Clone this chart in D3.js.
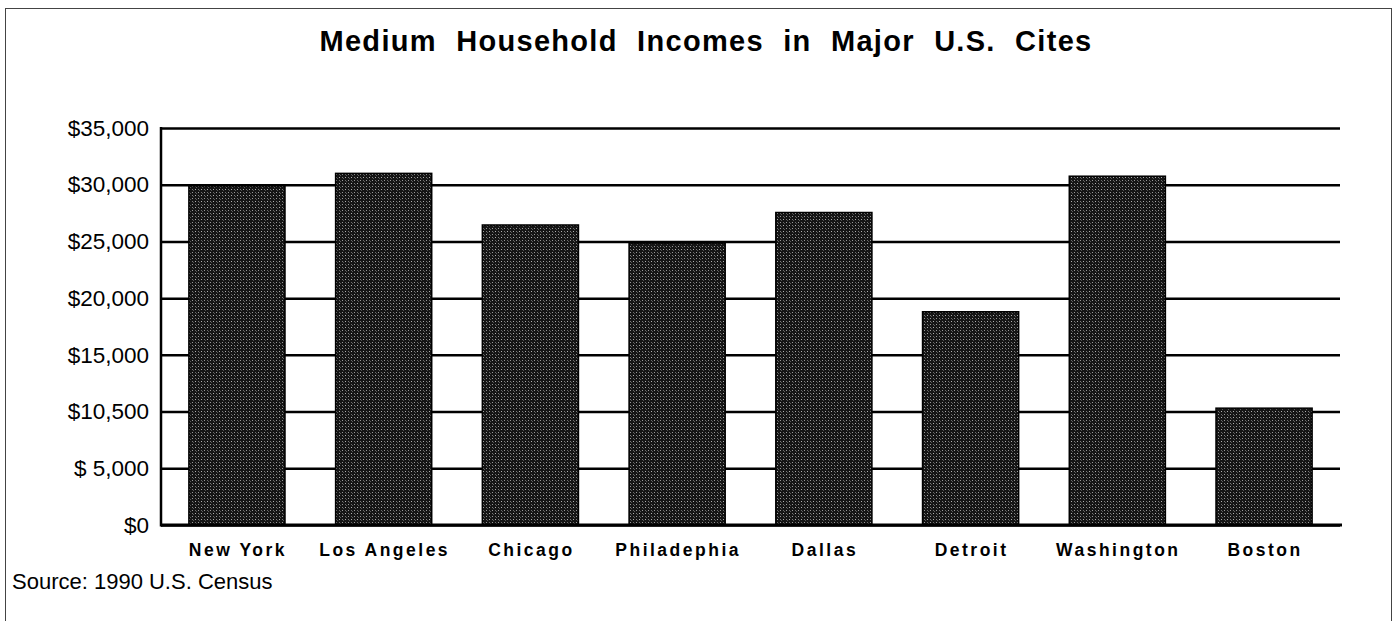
<!DOCTYPE html>
<html>
<head>
<meta charset="utf-8">
<script src="https://cdn.jsdelivr.net/npm/d3@7"></script>
<style>
  body { margin: 0; background: #fff; }
  text { font-family: "Liberation Sans", Arial, Helvetica, sans-serif; fill: #000; }
</style>
</head>
<body>
<div id="chart"></div>
<script>
var cities = ["New York", "Los Angeles", "Chicago", "Philadephia", "Dallas", "Detroit", "Washington", "Boston"];
var incomes = [29900, 31000, 26450, 24850, 27550, 18800, 30750, 10300];
var tickValues = [0, 5000, 10000, 15000, 20000, 25000, 30000, 35000];
var tickLabels = ["$0", "$ 5,000", "$10,500", "$15,000", "$20,000", "$25,000", "$30,000", "$35,000"];
var title = "Medium Household Incomes in Major U.S. Cites";
var source = "Source: 1990 U.S. Census";

var width = 1395, height = 621;
var plotLeft = 161, plotRight = 1340, plotTop = 128, plotBottom = 525;

var svg = d3.select("#chart").append("svg")
    .attr("width", width)
    .attr("height", height);

// halftone-ish fill for the bars
var defs = svg.append("defs");
var pat = defs.append("pattern")
    .attr("id", "dots")
    .attr("patternUnits", "userSpaceOnUse")
    .attr("width", 6)
    .attr("height", 6);
pat.append("rect").attr("width", 6).attr("height", 6).attr("fill", "#151515");
var specks = [[0, 0, "#9a9a9a"], [3, 0, "#6a6a6a"], [0, 3, "#7a7a7a"], [3, 3, "#b0b0b0"], [1, 4, "#555"], [4, 1, "#5a5a5a"]];
specks.forEach(function(s) {
  pat.append("rect").attr("x", s[0]).attr("y", s[1]).attr("width", 1).attr("height", 1).attr("fill", s[2]);
});

// outer frame
svg.append("rect")
    .attr("x", 5.5).attr("y", 8.5)
    .attr("width", 1386).attr("height", 620)
    .attr("fill", "none")
    .attr("stroke", "#444")
    .attr("stroke-width", 1);

var x = d3.scaleBand()
    .domain(cities)
    .range([plotLeft, plotRight])
    .paddingInner(0.345)
    .paddingOuter(0.19);

var y = d3.scaleLinear()
    .domain([0, 35000])
    .range([plotBottom, plotTop]);

// gridlines
var yAxis = d3.axisLeft(y)
    .tickValues(tickValues)
    .tickSize(-(plotRight - plotLeft))
    .tickFormat(function(d, i) { return tickLabels[i]; });

var gy = svg.append("g")
    .attr("transform", "translate(" + plotLeft + ",0)")
    .call(yAxis);
gy.select(".domain").remove();
gy.selectAll(".tick line")
    .attr("stroke", "#000")
    .attr("stroke-width", 2.5);
gy.selectAll(".tick text")
    .attr("x", -12)
    .style("font-size", "22.5px")
    .style("font-family", "'Liberation Sans', Arial, sans-serif");

svg.append("line")
    .attr("x1", plotLeft).attr("x2", plotLeft)
    .attr("y1", plotTop - 1).attr("y2", plotBottom + 1.5)
    .attr("stroke", "#000")
    .attr("stroke-width", 2.5);

svg.selectAll(".bar")
    .data(incomes)
    .enter().append("rect")
    .attr("class", "bar")
    .attr("x", function(d, i) { return x(cities[i]); })
    .attr("y", function(d) { return y(d); })
    .attr("width", x.bandwidth())
    .attr("height", function(d) { return y(0) - y(d); })
    .attr("fill", "url(#dots)")
    .attr("stroke", "#000")
    .attr("stroke-width", 1.5);

svg.append("line")
    .attr("x1", plotLeft).attr("x2", plotRight + 2)
    .attr("y1", plotBottom).attr("y2", plotBottom)
    .attr("stroke", "#000")
    .attr("stroke-width", 3);

svg.selectAll(".city")
    .data(cities)
    .enter().append("text")
    .attr("class", "city")
    .attr("x", function(d) { return x(d) + x.bandwidth() / 2 + 1; })
    .attr("y", 556)
    .attr("text-anchor", "middle")
    .style("font-size", "17.5px")
    .style("font-weight", "bold")
    .style("letter-spacing", "2.5px")
    .text(function(d) { return d; });

svg.append("text")
    .attr("x", 706)
    .attr("y", 51)
    .attr("text-anchor", "middle")
    .style("font-size", "29px")
    .style("font-weight", "bold")
    .style("letter-spacing", "1.3px")
    .style("word-spacing", "10px")
    .text(title);

svg.append("text")
    .attr("x", 12)
    .attr("y", 589)
    .style("font-size", "22px")
    .text(source);
</script>
</body>
</html>
